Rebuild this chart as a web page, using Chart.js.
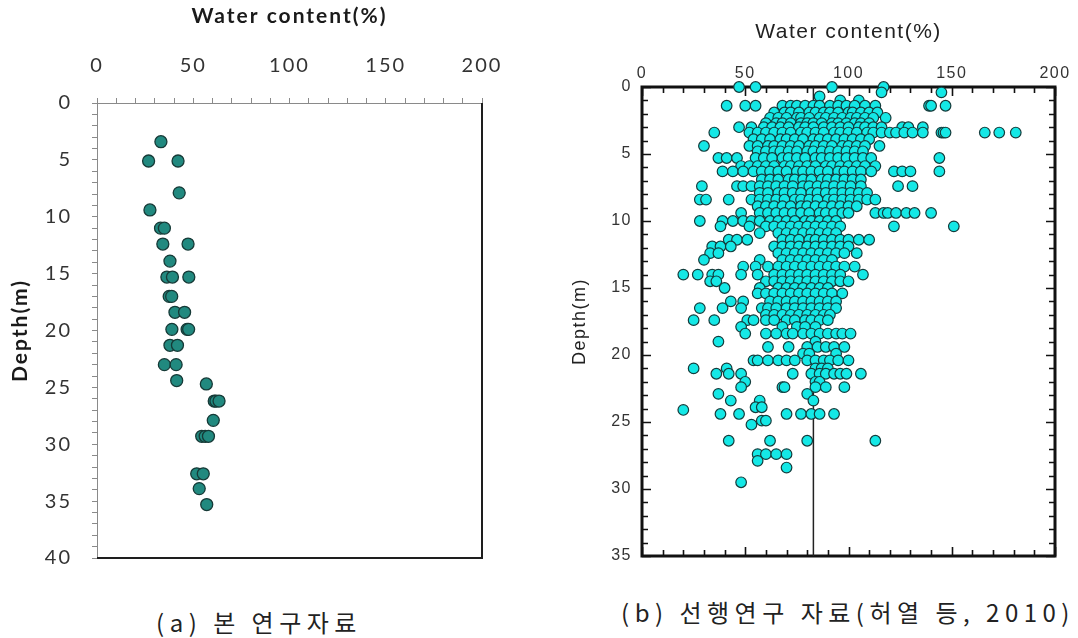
<!DOCTYPE html>
<html>
<head>
<meta charset="utf-8">
<script src="https://cdn.jsdelivr.net/npm/chart.js@4.4.1/dist/chart.umd.min.js"></script>
<style>
  html, body { margin: 0; padding: 0; background: #fff; width: 1078px; height: 638px; overflow: hidden; }
  #wrapA { position: absolute; left: 0; top: 0; width: 540px; height: 590px; }
  #wrapB { position: absolute; left: 560px; top: 0; width: 518px; height: 590px; }
  .cap { position: absolute; font-family: "Noto Sans CJK KR", sans-serif; font-size: 24px; color: #222;
         white-space: nowrap; transform: translateX(-50%); letter-spacing: 5.5px; line-height: 34px; }
</style>
</head>
<body>
<div id="wrapA"><canvas id="chartA" width="540" height="590"></canvas></div>
<div id="wrapB"><canvas id="chartB" width="518" height="590"></canvas></div>
<div class="cap" style="left:259px; top:605px;">(a) 본 연구자료</div>
<div class="cap" style="left:848px; top:595px;">(b) 선행연구 자료(허열 등, 2010)</div>

<script>
// ---------- (a) this study: water content (%) vs depth (m) ----------
const studyDepth = [3.4, 5.1, 5.1, 7.9, 9.4, 11.0, 11.0, 12.4, 12.4, 13.9,
                    15.3, 15.3, 15.3, 17.0, 17.0, 18.4, 18.4, 19.9, 19.9, 19.9,
                    21.3, 21.3, 23.0, 23.0, 24.4, 24.7, 26.2, 26.2, 26.2, 27.9,
                    29.3, 29.3, 29.3, 32.6, 32.6, 33.9, 35.3];
const studyWater = [33.2, 26.8, 42.1, 42.7, 27.5, 33.0, 35.0, 34.2, 47.3, 37.9,
                    36.3, 39.2, 47.7, 37.5, 38.8, 40.5, 45.5, 38.9, 46.8, 47.6,
                    37.9, 41.8, 35.0, 41.1, 41.4, 56.8, 60.9, 61.8, 63.4, 60.4,
                    54.4, 56.2, 57.9, 51.8, 55.2, 53.1, 57.0];

// ---------- (b) earlier survey (Heo et al., 2010), grouped by sampling depth ----------
const shallowDepth = [0.0, 0.4, 0.7, 1.0, 1.4, 1.9, 2.3, 2.7, 3.0, 3.4, 3.9, 4.4, 4.8, 5.3, 5.9, 6.3, 6.9, 7.4, 7.9];
const shallowWater = [
  [47, 55, 92, 117],
  [116, 145],
  [86],
  [96, 105],
  [41, 50, 55, 68, 72, 75, 79, 83, 86, 91, 95, 99, 103, 108, 113, 139, 140, 147],
  [64, 69, 72, 76, 81, 84, 88, 91, 95, 100, 102, 106, 110, 114],
  [62, 66, 70, 75, 77, 81, 86, 89, 93, 97, 101, 104, 108, 112, 118],
  [60, 65, 68, 72, 77, 80, 83, 87, 92, 95, 99, 103, 106, 110],
  [47, 53, 59, 63, 67, 71, 76, 79, 83, 88, 92, 96, 100, 105, 108, 112, 116, 126, 129, 136],
  [35, 52, 56, 60, 64, 68, 72, 77, 80, 84, 88, 93, 96, 100, 104, 109, 112, 116, 120, 123, 127, 131, 136, 145, 146, 147, 166, 173, 181],
  [54, 58, 62, 67, 70, 74, 78, 83, 86, 90, 94, 98, 102, 106, 110],
  [30, 52, 56, 61, 64, 68, 72, 76, 81, 84, 88, 92, 97, 100, 104, 108, 115],
  [56, 60, 64, 67, 71, 75, 80, 83, 87, 91, 95, 99, 103, 107],
  [37, 41, 46, 55, 59, 63, 68, 71, 75, 79, 84, 87, 91, 95, 99, 103, 107, 111, 144],
  [48, 52, 56, 60, 64, 69, 72, 76, 80, 84, 89, 92, 96, 100, 104, 108, 113],
  [39, 44, 49, 54, 58, 62, 66, 70, 75, 78, 82, 86, 90, 95, 98, 102, 106, 111, 122, 126, 130, 144],
  [58, 62, 66, 71, 74, 78, 82, 87, 90, 94, 98, 102, 106],
  [29, 46, 49, 53, 57, 61, 65, 69, 73, 78, 81, 85, 89, 93, 97, 101, 106, 124, 131],
  [57, 61, 66, 69, 73, 77, 82, 85, 89, 93, 97, 101, 105, 109]
];

const middleDepth = [8.4, 8.9, 9.4, 10.0, 10.4, 10.9, 11.4, 11.9, 12.4, 12.9, 13.4, 14.0, 14.5, 15.0, 15.4, 16.0, 16.5];
const middleWater = [
  [28, 31, 42, 53, 57, 61, 65, 69, 74, 77, 81, 85, 90, 93, 97, 101, 105, 109, 113],
  [56, 60, 64, 68, 72, 77, 80, 84, 88, 92, 96, 100, 104],
  [48, 57, 61, 65, 69, 73, 77, 81, 86, 89, 93, 97, 100, 113, 117, 119, 123, 128, 132, 140],
  [28, 39, 44, 49, 53, 57, 62, 66, 70, 74, 79, 82, 86, 90, 94],
  [38, 52, 60, 64, 68, 72, 76, 80, 84, 88, 92, 96, 122, 151],
  [57, 66, 70, 74, 78, 82, 86, 90, 94],
  [42, 46, 51, 68, 72, 76, 81, 84, 88, 92, 96, 100, 105, 110],
  [34, 38, 43, 64, 68, 72, 76, 80, 84, 88, 92, 96, 100],
  [33, 37, 66, 70, 74, 78, 82, 86, 90, 94, 98, 104],
  [30, 57, 68, 72, 76, 80, 84, 88, 92],
  [49, 55, 61, 66, 70, 74, 78, 82, 86, 90, 94, 98, 103],
  [20, 27, 34, 37, 48, 56, 64, 68, 72, 76, 80, 84, 88, 92, 96, 107],
  [33, 36, 60, 64, 68, 72, 76, 80, 84, 88, 92, 96, 100],
  [40, 57, 66, 70, 74, 78, 82, 86, 90],
  [56, 60, 64, 68, 72, 76, 80, 84, 88, 92, 97],
  [43, 49, 62, 66, 70, 74, 78, 82, 86, 90, 94],
  [28, 39, 48, 58, 61, 65, 70, 74, 78, 82, 86, 90, 94]
];

const deepDepth = [17.0, 17.4, 17.9, 18.4, 19.0, 19.4, 19.9, 20.4, 21.0, 21.4, 22.0, 22.4, 22.9, 23.4, 23.9, 24.1, 24.4, 24.9, 25.2, 26.4, 27.4, 27.9, 28.4, 29.5];
const deepWater = [
  [60, 64, 68, 72, 76, 80, 84, 88, 91],
  [25, 35, 51, 54, 60, 64, 70, 74, 79, 82, 86, 90],
  [48, 68, 75, 79, 84],
  [50, 60, 65, 70, 73, 78, 82, 86, 90, 94, 97, 101],
  [37, 84],
  [61, 71, 80, 85, 89, 93, 98],
  [78, 81, 94],
  [54, 56, 61, 66, 70, 74, 80, 84, 88, 91, 95, 100],
  [25, 41, 84, 87, 90],
  [36, 42, 48, 73, 82, 86, 89, 93, 96, 99, 106],
  [50, 84, 86],
  [48, 68, 69, 84, 89, 98],
  [37, 80],
  [43, 57, 83],
  [55, 58],
  [20],
  [38, 47, 70, 77, 82, 86, 93],
  [58, 60],
  [53],
  [42, 62, 80, 113],
  [56, 60, 65, 70],
  [56],
  [70],
  [48]
];

// mean water content of the survey, drawn as a vertical reference line
const surveyMean = 83;

// axis ranges
const aWaterMax = 200, aDepthMax = 40;
const bWaterMax = 200, bDepthMax = 35;

// ---------- helpers ----------
function rowsToPoints(depths, waters) {
  const pts = [];
  depths.forEach((d, i) => waters[i].forEach(w => pts.push({ x: w, y: d })));
  return pts;
}
const surveyPoints = [
  ...rowsToPoints(shallowDepth, shallowWater),
  ...rowsToPoints(middleDepth, middleWater),
  ...rowsToPoints(deepDepth, deepWater)
];
const studyPoints = studyWater.map((w, i) => ({ x: w, y: studyDepth[i] }));

// wider text tracking for each canvas
function spacing(px) {
  return { id: 'spacing', beforeDraw(chart) { chart.ctx.letterSpacing = px; } };
}

// frame of panel (a): grey axes on the left/top, dark edges right/bottom
const frameA = {
  id: 'frameA',
  beforeDatasetsDraw(chart) {
    const { ctx, chartArea: a } = chart;
    ctx.save();
    ctx.strokeStyle = '#1e1e1e';
    ctx.lineWidth = 2;
    ctx.beginPath();
    ctx.moveTo(a.right, a.top);
    ctx.lineTo(a.right, a.bottom);
    ctx.lineTo(a.left, a.bottom);
    ctx.stroke();
    ctx.restore();
  }
};

// frame of panel (b): heavy box with inward major / minor ticks on all sides
const frameB = {
  id: 'frameB',
  beforeDatasetsDraw(chart) {
    const { ctx, chartArea: a, scales } = chart;
    ctx.save();
    ctx.strokeStyle = '#111';
    ctx.lineWidth = 1.6;
    ctx.beginPath();
    for (let v = 0; v <= bWaterMax; v += 10) {
      const px = Math.round(scales.x.getPixelForValue(v)) + 0.5;
      const len = v % 50 === 0 ? 9 : 6;
      ctx.moveTo(px, a.top); ctx.lineTo(px, a.top + len);
      ctx.moveTo(px, a.bottom); ctx.lineTo(px, a.bottom - len);
    }
    for (let d = 0; d <= bDepthMax; d += 1) {
      const py = Math.round(scales.y.getPixelForValue(d)) + 0.5;
      const len = d % 5 === 0 ? 9 : 6;
      ctx.moveTo(a.left, py); ctx.lineTo(a.left + len, py);
      ctx.moveTo(a.right, py); ctx.lineTo(a.right - len, py);
    }
    ctx.stroke();
    ctx.lineWidth = 3;
    ctx.strokeRect(a.left, a.top, a.right - a.left, a.bottom - a.top);
    ctx.restore();
  }
};

// ---------- chart (a) ----------
new Chart(document.getElementById('chartA'), {
  type: 'scatter',
  data: {
    datasets: [{
      data: studyPoints,
      pointRadius: 6,
      pointBackgroundColor: '#21897f',
      pointBorderColor: '#163a37',
      pointBorderWidth: 1.3,
      clip: false
    }]
  },
  options: {
    responsive: false,
    animation: false,
    layout: { padding: { left: 0, top: 0, right: 58, bottom: 19 } },
    plugins: { legend: { display: false }, tooltip: { enabled: false } },
    scales: {
      x: {
        type: 'linear', position: 'top', min: 0, max: aWaterMax,
        afterFit(s) { s.height = 103; },
        ticks: {
          stepSize: 10, autoSkip: false, maxRotation: 0, padding: 20,
          color: '#333', font: { family: 'Lato', size: 20 },
          callback: v => (v % 50 === 0 ? String(v) : '')
        },
        grid: { drawOnChartArea: false, tickLength: 5, color: '#8a8a8a' },
        border: { color: '#8a8a8a', width: 1 },
        title: {
          display: true, text: 'Water content(%)', color: '#1a1a1a',
          font: { family: 'Lato', size: 21, weight: 'bold' }, padding: { top: 4, bottom: 0 }
        }
      },
      y: {
        type: 'linear', position: 'left', reverse: true, min: 0, max: aDepthMax,
        afterFit(s) { s.width = 97; },
        ticks: {
          stepSize: 1, autoSkip: false, padding: 20,
          color: '#333', font: { family: 'Lato', size: 20 },
          callback: v => (v % 5 === 0 ? String(v) : '')
        },
        grid: { drawOnChartArea: false, tickLength: 5, color: '#8a8a8a' },
        border: { color: '#8a8a8a', width: 1 },
        title: {
          display: true, text: 'Depth(m)', color: '#1a1a1a',
          font: { family: 'Lato', size: 21, weight: 'bold' }, padding: { top: 8, bottom: 0 }
        }
      }
    }
  },
  plugins: [spacing('2px'), frameA]
});

// ---------- chart (b) ----------
new Chart(document.getElementById('chartB'), {
  type: 'scatter',
  data: {
    datasets: [
      {
        data: surveyPoints,
        pointRadius: 5.3,
        pointBackgroundColor: '#14e8e6',
        pointBorderColor: '#143c3c',
        pointBorderWidth: 1.2,
        clip: false,
        order: 1
      },
      {
        type: 'line',
        data: [{ x: surveyMean, y: 0 }, { x: surveyMean, y: bDepthMax }],
        borderColor: '#222',
        borderWidth: 1.5,
        pointRadius: 0,
        order: 2
      }
    ]
  },
  options: {
    responsive: false,
    animation: false,
    layout: { padding: { left: 0, top: 0, right: 23, bottom: 34 } },
    plugins: { legend: { display: false }, tooltip: { enabled: false } },
    scales: {
      x: {
        type: 'linear', position: 'top', min: 0, max: bWaterMax,
        afterFit(s) { s.height = 87; },
        ticks: {
          stepSize: 50, maxRotation: 0, padding: 4,
          color: '#333', font: { family: 'Liberation Sans', size: 16 }
        },
        grid: { drawOnChartArea: false, drawTicks: false },
        border: { display: false },
        title: {
          display: true, text: 'Water content(%)', color: '#222',
          font: { family: 'Liberation Sans', size: 21 }, padding: { top: 20, bottom: 0 }
        }
      },
      y: {
        type: 'linear', position: 'left', reverse: true, min: 0, max: bDepthMax,
        afterFit(s) { s.width = 82; },
        ticks: {
          stepSize: 5, padding: 10,
          color: '#333', font: { family: 'Liberation Sans', size: 16 }
        },
        grid: { drawOnChartArea: false, drawTicks: false },
        border: { display: false },
        title: {
          display: true, text: 'Depth(m)', color: '#222',
          font: { family: 'Liberation Sans', size: 18 }, padding: { top: 9, bottom: 0 }
        }
      }
    }
  },
  plugins: [spacing('1.5px'), frameB]
});
</script>
</body>
</html>
